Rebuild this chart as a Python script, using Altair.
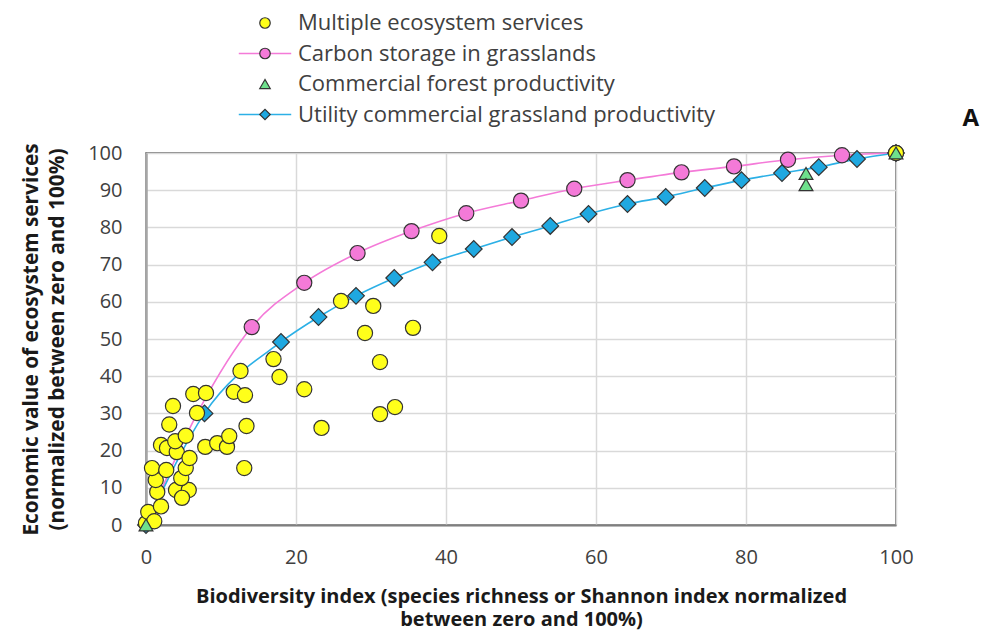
import altair as alt
import pandas as pd

SERIES = [
    "Multiple ecosystem services",
    "Carbon storage in grasslands",
    "Commercial forest productivity",
    "Utility commercial grassland productivity",
]
FILLS = ["#ffff1a", "#f47ad8", "#6ee08c", "#1fa8e0"]
SHAPES = ["circle", "circle", "triangle-up", "diamond"]
OUTLINES = ["#333333", "#333333", "#333333", "#333333"]
LINE_KEYS = ["a", "b", "c", "d"]
LINE_COLORS = ["transparent", "#f47ad8", "transparent", "#2cb0e6"]

multi_x = [0, 0.3, 1.1, 2.0, 1.5, 4.0, 5.7, 4.8, 1.3, 4.7, 0.8, 2.7, 5.3, 2.0, 2.8, 4.1,
           3.9, 5.8, 5.3, 3.1, 3.6, 6.8, 6.3, 8.0, 7.9, 9.5, 10.8, 11.1, 11.7, 13.2, 12.6,
           13.4, 13.1, 17.0, 17.8, 21.1, 23.4, 26.0, 30.3, 29.2, 35.6, 31.2, 31.2, 33.2, 39.1, 100]
multi_y = [0.5, 3.5, 1.0, 5.0, 8.9, 9.4, 9.4, 7.3, 12.1, 12.6, 15.3, 14.8, 15.3, 21.5, 20.7, 19.6,
           22.5, 18.0, 24.0, 27.0, 32.0, 30.1, 35.2, 35.5, 21.0, 22.0, 21.0, 23.9, 35.8, 34.9, 41.4,
           26.6, 15.3, 44.6, 39.8, 36.5, 26.1, 60.2, 58.9, 51.6, 53.0, 43.8, 29.8, 31.7, 77.7, 100]

carbon_x = [0, 7.1, 14.1, 21.1, 28.2, 35.4, 42.7, 50.0, 57.1, 64.2, 71.4, 78.4, 85.6, 92.8, 100]
carbon_y = [0, 31, 53.2, 65.1, 73.1, 79.0, 83.8, 87.2, 90.4, 92.7, 94.8, 96.4, 98.2, 99.4, 100]

forest_x = [0, 88, 88, 100]
forest_y = [0, 94.5, 91.5, 100]

utility_x = [0, 7.8, 18.0, 23.0, 28.0, 33.1, 38.2, 43.7, 48.8, 53.9, 59.0, 64.2, 69.3, 74.5,
             79.4, 84.8, 89.7, 94.8, 100]
utility_y = [0, 30.0, 49.2, 55.9, 61.6, 66.4, 70.6, 74.2, 77.4, 80.4, 83.6, 86.3, 88.2, 90.6,
             92.7, 94.6, 96.2, 98.4, 100]

x_ticks = [0, 20, 40, 60, 80, 100]
y_ticks = [0, 10, 20, 30, 40, 50, 60, 70, 80, 90, 100]


def frame(xs, ys, i):
    return pd.DataFrame({"x": xs, "y": ys, "series": SERIES[i], "line_key": LINE_KEYS[i]})


multi = frame(multi_x, multi_y, 0)
carbon = frame(carbon_x, carbon_y, 1)
carbon_markers = carbon.iloc[2:]
forest = frame(forest_x, forest_y, 2)
utility = frame(utility_x, utility_y, 3)

FONT = "Open Sans"
TXT = "#404040"

x_enc = alt.X(
    "x:Q",
    scale=alt.Scale(domain=[0, 100], nice=False, zero=False),
    axis=alt.Axis(
        values=x_ticks,
        title=["Biodiversity index (species richness or Shannon index normalized",
               "between zero and 100%)"],
        grid=True, gridColor="#d9d9d9", gridWidth=1.5,
        ticks=False, domainColor="#7f7f7f", domainWidth=2, labelFlush=False,
        labelFont=FONT, labelFontSize=20, labelColor=TXT, labelPadding=22,
        titleFont=FONT, titleFontSize=20, titleFontWeight="bold", titleColor="#1a1a1a",
        titlePadding=19, titleLineHeight=23,
    ),
)
y_enc = alt.Y(
    "y:Q",
    scale=alt.Scale(domain=[0, 100], nice=False, zero=False),
    axis=alt.Axis(
        values=y_ticks,
        title=["Economic value of ecosystem services",
               "(normalized between zero and 100%)"],
        grid=True, gridColor="#d9d9d9", gridWidth=1.5,
        ticks=False, domainColor="#a6a6a6", domainWidth=2.5, labelFlush=False,
        labelFont=FONT, labelFontSize=20, labelColor=TXT, labelPadding=24,
        titleFont=FONT, titleFontSize=20.8, titleFontWeight="bold", titleColor="#1a1a1a",
        titlePadding=20, titleLineHeight=26,
    ),
)

LEG_X = 108
LEG_Y = -141
ROW_PAD = 8.5

point_legend = alt.Legend(
    title=None, orient="none", legendX=LEG_X, legendY=LEG_Y, direction="vertical",
    symbolSize=110, symbolStrokeWidth=1.2,
    labelFont=FONT, labelFontSize=22, labelColor=TXT, labelOffset=22, rowPadding=ROW_PAD,
    labelLimit=700, zindex=2,
)
fill_enc = alt.Fill("series:N", scale=alt.Scale(domain=SERIES, range=FILLS), legend=point_legend)
shape_enc = alt.Shape("series:N", scale=alt.Scale(domain=SERIES, range=SHAPES), legend=point_legend)
stroke_enc = alt.Stroke("series:N", scale=alt.Scale(domain=SERIES, range=OUTLINES), legend=point_legend)

line_legend = alt.Legend(
    title=None, orient="none", legendX=LEG_X, legendY=LEG_Y, direction="vertical",
    symbolType="M-5,0L5,0", symbolSize=110, symbolStrokeWidth=1.6,
    labelFont=FONT, labelFontSize=22, labelExpr="''", labelOffset=22,
    rowPadding=ROW_PAD, zindex=1,
)
color_enc = alt.Color("line_key:N", scale=alt.Scale(domain=LINE_KEYS, range=LINE_COLORS),
                      legend=line_legend)


def line_layer(df):
    return alt.Chart(df).mark_line(interpolate="monotone", strokeWidth=1.6).encode(
        x=x_enc, y=y_enc, color=color_enc, order="x:Q")


def point_layer(df, size):
    return alt.Chart(df).mark_point(filled=True, size=size, opacity=1, strokeWidth=1.2).encode(
        x=x_enc, y=y_enc, fill=fill_enc, shape=shape_enc, stroke=stroke_enc)


chart = alt.layer(
    line_layer(carbon),
    line_layer(utility),
    point_layer(carbon_markers, 230),
    point_layer(utility, 280),
    point_layer(multi, 230),
    point_layer(forest, 190),
).properties(
    width=750, height=372,
    padding={"left": 138, "top": 145, "right": 99, "bottom": 106},
    autosize=alt.AutoSizeParams(type="none"),
    title=alt.TitleParams("A", anchor="end", font=FONT, fontSize=24, fontWeight="bold",
                          color="#111111", dx=66, dy=139, offset=20),
).configure_view(
    stroke="#595959", strokeWidth=1.5,
)

chart.save("out.html", embed_options={"renderer": "svg", "actions": False})
